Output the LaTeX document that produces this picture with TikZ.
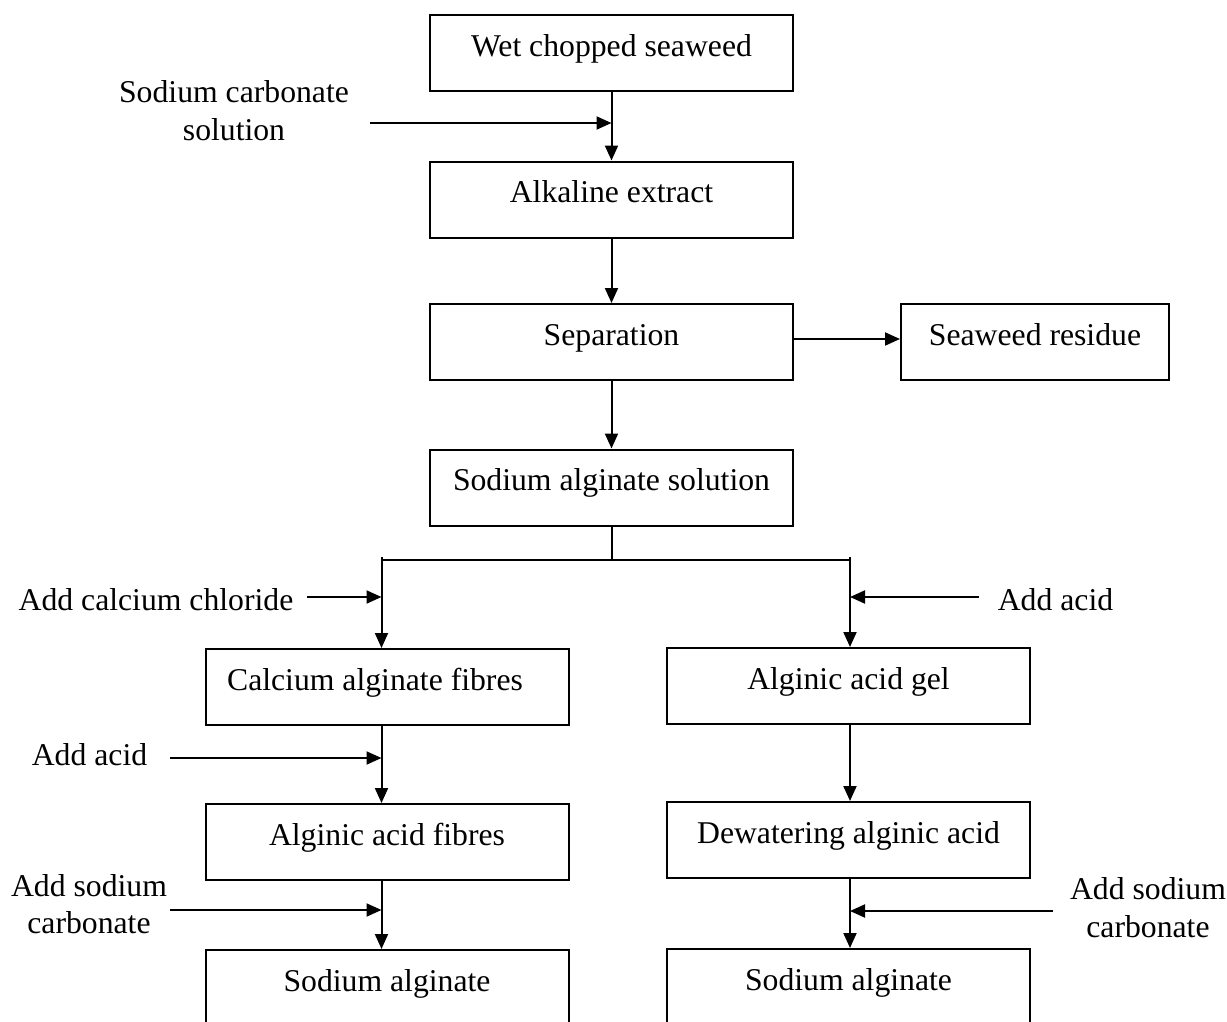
\documentclass[tikz,border=0pt]{standalone}
\usepackage{fontspec}
\setmainfont{Liberation Serif}
\usetikzlibrary{arrows.meta}
\newcommand{\fs}{\fontsize{31.7}{37.5}\selectfont}
\begin{document}
\begin{tikzpicture}[x=1pt,y=-1pt,
  line width=2pt,
  box/.style={draw, line width=2pt, minimum width=363pt, minimum height=76pt,
    inner sep=0pt, text height=25pt, text depth=19pt, font=\fs},
  lbl/.style={font=\fs, inner sep=0pt, align=center},
  arr/.style={-{Triangle[length=15pt,width=13pt]}}]
\useasboundingbox (0,0) rectangle (1227,1021);
\clip (0,0) rectangle (1227,1021);
% main column
\node[box] (w1)  at (611.5,53)    {Wet chopped seaweed};
\node[box] (ae)  at (611.5,199.5) {Alkaline extract};
\node[box] (sep) at (611.5,342)   {Separation};
\node[box] (sas) at (611.5,487.5) {Sodium alginate solution};
\node[box, minimum width=268pt] (res) at (1035,342) {Seaweed residue};
% left column
\node[box] (caf) at (387,687)  {Calcium alginate fibres\hspace*{24pt}};
\node[box] (aaf) at (387,842)  {Alginic acid fibres};
\node[box] (sa1) at (387,988)  {Sodium alginate};
% right column
\node[box] (gel) at (848.5,686) {Alginic acid gel};
\node[box] (dew) at (848.5,840) {Dewatering alginic acid};
\node[box] (sa2) at (848.5,987) {Sodium alginate};
% labels
\node[lbl] (l1) at (234,110.5) {Sodium carbonate\\solution};
\node[lbl, anchor=base] (l2) at (156,610) {Add calcium chloride};
\node[lbl, anchor=base] (l3) at (89.5,765) {Add acid};
\node[lbl] (l4) at (89,904) {Add sodium\\carbonate};
\node[lbl, anchor=base] (l5) at (1055.5,610) {Add acid};
\node[lbl] (l6) at (1148,907.5) {Add sodium\\carbonate};
% coordinates
\coordinate (busL) at (381.5,560);
\coordinate (busR) at (850,560);
\coordinate (in1) at (370,123);
\coordinate (in2) at (307,597);
\coordinate (in3) at (170,758);
\coordinate (in4) at (170,910);
\coordinate (in5) at (979,597);
\coordinate (in6) at (1053,911);
% main connectors
\draw[arr] (w1.south) -- (ae.north);
\draw[arr] (in1) -- (in1 -| w1.south);
\draw[arr] (ae.south) -- (sep.north);
\draw[arr] ([yshift=3pt]sep.east) -- ([yshift=3pt]res.west);
\draw[arr] (sep.south) -- (sas.north);
\draw (sas.south) -- (sas.south |- busL);
\draw (busL) -- (busR);
% left branch
\draw[arr] ([yshift=3pt]busL) -- (caf.north -| busL);
\draw[arr] (in2) -- (in2 -| busL);
\draw[arr] (caf.south -| busL) -- (aaf.north -| busL);
\draw[arr] (in3) -- (in3 -| busL);
\draw[arr] (aaf.south -| busL) -- (sa1.north -| busL);
\draw[arr] (in4) -- (in4 -| busL);
% right branch
\draw[arr] ([yshift=3pt]busR) -- (gel.north -| busR);
\draw[arr] (in5) -- (in5 -| busR);
\draw[arr] (gel.south -| busR) -- (dew.north -| busR);
\draw[arr] (dew.south -| busR) -- (sa2.north -| busR);
\draw[arr] (in6) -- (in6 -| busR);
\end{tikzpicture}
\end{document}
